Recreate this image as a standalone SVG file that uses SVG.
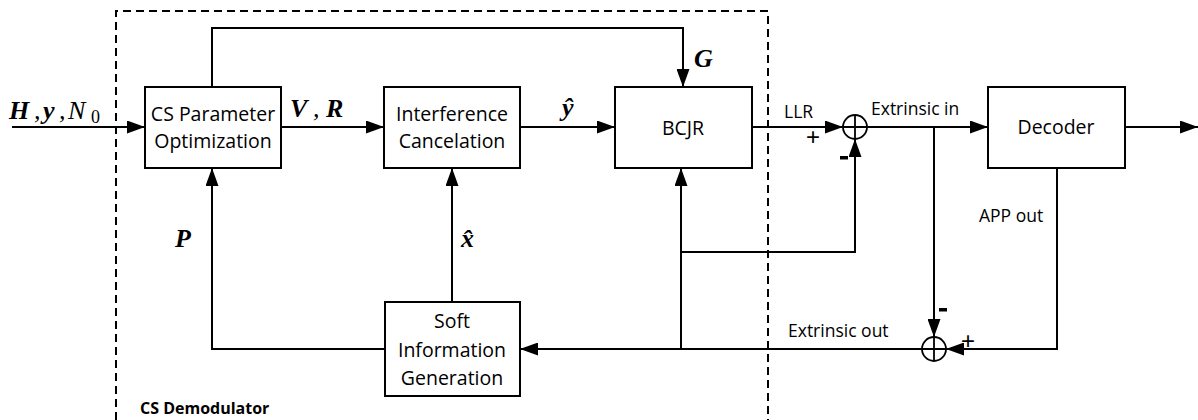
<svg xmlns="http://www.w3.org/2000/svg" width="1198" height="420" viewBox="0 0 1198 420">
<style>
.box{fill:#fff;stroke:#000;stroke-width:2}
.ln{fill:none;stroke:#000;stroke-width:2}
.arr{marker-end:url(#ah)}
.t{font-family:"Open Sans","Liberation Sans",sans-serif;font-size:19.5px;fill:#000;text-anchor:middle}
.s{font-family:"Open Sans","Liberation Sans",sans-serif;font-size:17.5px;fill:#000}
.pm{font-family:"Liberation Sans",sans-serif;font-size:24px;fill:#000}
.m{font-family:"Liberation Serif",serif;font-style:italic;font-weight:bold;font-size:26px;fill:#000}
.mn{font-weight:normal}
.dash{fill:none;stroke:#000;stroke-width:2;stroke-dasharray:8,5}
.sum{fill:#fff;stroke:#000;stroke-width:1.8}
</style>
<defs>
<marker id="ah" markerUnits="userSpaceOnUse" markerWidth="18" markerHeight="13" refX="18" refY="6.5" orient="auto">
<path d="M0,0 L18,6.5 L0,13 z" fill="#000"/>
</marker>
</defs>
<rect width="1198" height="420" fill="#fff"/>
<g id="demod-boundary">
<path class="dash" d="M116,420 V11 H768 V420"/>
<text x="140" y="414" style="font-family:'Open Sans','Liberation Sans',sans-serif;font-size:16px;font-weight:bold">CS Demodulator</text>
</g>
<g id="connectors">
<line class="ln arr" x1="12" y1="127" x2="145" y2="127"/>
<line class="ln arr" x1="281" y1="127" x2="384" y2="127"/>
<line class="ln arr" x1="520" y1="127" x2="615" y2="127"/>
<polyline class="ln arr" points="212,87 212,28 683,28 683,87"/>
<line class="ln arr" x1="752" y1="127" x2="843" y2="127"/>
<line class="ln arr" x1="867" y1="127" x2="988" y2="127"/>
<line class="ln arr" x1="1125" y1="127" x2="1198" y2="127"/>
<line class="ln arr" x1="934" y1="127" x2="934" y2="337"/>
<polyline class="ln arr" points="1057,168 1057,349 946,349"/>
<line class="ln arr" x1="922" y1="349" x2="520" y2="349"/>
<line class="ln arr" x1="681" y1="349" x2="681" y2="168"/>
<polyline class="ln arr" points="681,252 855,252 855,139"/>
<polyline class="ln arr" points="385,349 212,349 212,168"/>
<line class="ln arr" x1="452" y1="302" x2="452" y2="168"/>
</g>
<g id="labels">
<text class="m" y="119"><tspan x="9">H</tspan><tspan class="mn" x="34">,</tspan><tspan x="43">y</tspan><tspan class="mn" x="59">,</tspan><tspan class="mn" x="68">N</tspan><tspan class="mn" font-style="normal" font-size="18" x="91" dy="4">0</tspan></text>
<text class="m" y="117"><tspan x="290">V</tspan><tspan class="mn" x="313">,</tspan><tspan x="326">R</tspan></text>
<text class="m" x="562" y="116">ŷ</text>
<text class="m" x="694" y="67">G</text>
<text class="m" x="175" y="247">P</text>
<text class="m" x="461" y="247">x̂</text>
<text class="s" x="784" y="118">LLR</text>
<text class="s" x="871" y="115">Extrinsic in</text>
<text class="s" x="979" y="222">APP out</text>
<text class="s" x="788" y="337">Extrinsic out</text>
<text class="pm" x="806" y="145">+</text>
<rect x="840" y="156" width="8" height="3.5" fill="#000"/>
<rect x="939" y="308" width="8" height="3.5" fill="#000"/>
<text class="pm" x="961" y="349">+</text>
</g>
<g id="cs-param">
<rect class="box" x="145" y="87" width="136" height="81"/>
<text class="t" x="213" y="121">CS Parameter</text>
<text class="t" x="213" y="148">Optimization</text>
</g>
<g id="interference">
<rect class="box" x="384" y="87" width="136" height="81"/>
<text class="t" x="452" y="121">Interference</text>
<text class="t" x="452" y="148">Cancelation</text>
</g>
<g id="bcjr">
<rect class="box" x="615" y="87" width="137" height="81"/>
<text class="t" x="683" y="135">BCJR</text>
</g>
<g id="decoder">
<rect class="box" x="988" y="87" width="137" height="81"/>
<text class="t" x="1056" y="134">Decoder</text>
</g>
<g id="soft-info">
<rect class="box" x="385" y="302" width="135" height="94"/>
<text class="t" x="452" y="328">Soft</text>
<text class="t" x="452" y="357">Information</text>
<text class="t" x="452" y="385">Generation</text>
</g>
<g id="sum1">
<circle class="sum" cx="855" cy="127" r="12"/>
<path d="M843,127 H867 M855,115 V139" stroke="#000" stroke-width="1.8"/>
</g>
<g id="sum2">
<circle class="sum" cx="934" cy="349" r="12"/>
<path d="M922,349 H946 M934,337 V361" stroke="#000" stroke-width="1.8"/>
</g>
</svg>
